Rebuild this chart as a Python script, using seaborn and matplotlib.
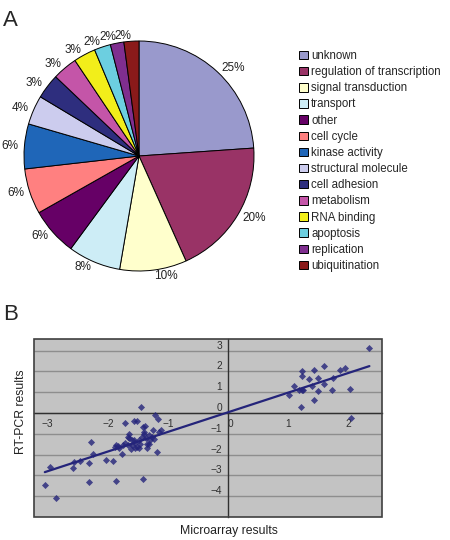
import numpy as np
import pandas as pd
import seaborn as sns
import matplotlib.pyplot as plt
from matplotlib.patches import Rectangle

# A: GO categories (slice shares, labels as printed)
categories = ["unknown", "regulation of transcription", "signal transduction",
              "transport", "other", "cell cycle", "kinase activity",
              "structural molecule", "cell adhesion", "metabolism",
              "RNA binding", "apoptosis", "replication", "ubiquitination"]
shares = [23.9, 19.4, 9.4, 7.4, 6.7, 6.4, 6.3, 4.1, 3.5, 3.5, 3.1, 2.3, 1.9, 2.1]
pct_labels = ["25%", "20%", "10%", "8%", "6%", "6%", "6%", "4%",
              "3%", "3%", "3%", "2%", "2%", "2%"]
slice_colors = ["#9999cc", "#993366", "#ffffcc", "#cdedf6", "#660066", "#ff8080",
                "#1f66b8", "#ccccee", "#2e2e7e", "#c455a8", "#f2ee1a", "#6ccfe0",
                "#7f2e8f", "#8a1a1a"]

# B: microarray vs RT-PCR (log ratios)
microarray = [-3.05, -2.97, -2.87, -2.58, -2.57, -2.46, -2.32, -2.31, -2.28, -2.25,
              -2.03, -1.91, -1.86, -1.88, -1.86, -1.81, -1.77, -1.74, -1.72, -1.67,
              -1.67, -1.65, -1.62, -1.59, -1.57, -1.51, -1.57, -1.54, -1.51, -1.48,
              -1.47, -1.44, -1.42, -1.42, -1.38, -1.40, -1.36, -1.34, -1.34, -1.32,
              -1.29, -1.26, -1.24, -1.23, -1.21, -1.18, -1.16, -1.14, -1.11, -1.65,
              -1.71, -1.83, -1.43, -1.39, -1.31, -1.48, -1.55, -1.59,
              2.36, 1.02, 1.10, 1.18, 1.23, 1.26, 1.24, 1.24, 1.22, 1.35, 1.41, 1.43,
              1.44, 1.50, 1.51, 1.60, 1.61, 1.73, 1.76, 1.87, 1.96, 2.04, 2.06]
rtpcr = [-3.44, -2.58, -4.10, -2.65, -2.35, -2.32, -2.39, -3.34, -1.37, -1.97,
         -2.27, -2.32, -3.26, -1.65, -1.55, -1.68, -1.95, -1.56, -0.47, -1.53,
         -1.13, -1.21, -1.73, -1.52, -0.39, -0.40, -1.32, -1.44, -1.65, -1.29,
         -1.48, 0.31, -3.16, -0.65, -0.63, -0.92, -1.19, -1.48, -1.68, -1.08,
         -1.32, -1.13, -0.81, -1.24, -0.08, -1.87, -0.27, -0.89, -0.84, -1.00,
         -1.45, -1.60, -1.13, -1.03, -1.48, -1.68, -1.68, -1.32,
         3.14, 0.87, 1.28, 1.09, 1.09, 1.09, 2.04, 1.80, 0.29, 1.64, 1.32, 2.09,
         0.64, 1.05, 1.67, 1.38, 2.25, 1.12, 1.70, 2.08, 2.16, 1.16, -0.24]
x_ticks = [-3, -2, -1, 0, 1, 2]
y_ticks = [-4, -3, -2, -1, 0, 1, 2, 3]

sns.set_style("white")
plt.rcParams['font.family'] = ['Liberation Sans', 'DejaVu Sans']

W, H = 450, 540
fig = plt.figure(figsize=(4.5, 5.4), dpi=100)

# ---- panel A: pie ----
r = 115
cx, cy = 139, 156
side = 2.5 * r
ax_pie = fig.add_axes([(cx - side / 2) / W, 1 - (cy + side / 2) / H, side / W, side / H])
wedges, texts = ax_pie.pie(shares, labels=pct_labels, colors=slice_colors,
                           startangle=90, counterclock=False, labeldistance=1.05,
                           wedgeprops=dict(edgecolor="black", linewidth=0.7),
                           textprops=dict(fontsize=8.5, color="#222222"))
ax_pie.set_xlim(-1.25, 1.25)
ax_pie.set_ylim(-1.25, 1.25)

fig.legend(wedges, categories, loc="upper left", bbox_to_anchor=(299 / W, 1 - 50 / H),
           frameon=False, fontsize=8.3, handlelength=0.75, handleheight=0.75,
           handletextpad=0.3, labelspacing=0.36, borderpad=0, borderaxespad=0)

fig.text(3 / W, 1 - 26 / H, "A", fontsize=16, va="baseline")
fig.text(3 / W, 1 - 320 / H, "B", fontsize=16, va="baseline")

# ---- panel B: scatter with trendline ----
df = pd.DataFrame({"Microarray": microarray, "RTPCR": rtpcr})
navy = "#24247a"
ax = fig.add_axes([34 / W, 1 - 517 / H, 348 / W, 178 / H])
ax.set_facecolor("#c3c3c3")
ax.yaxis.grid(True, color="#8e8e8e", lw=1)
ax.set_axisbelow(True)
sns.regplot(data=df, x="Microarray", y="RTPCR", ax=ax, ci=None, marker="D",
            scatter_kws=dict(s=13, color=navy, linewidths=0, zorder=3),
            line_kws=dict(color=navy, lw=1.6, zorder=4))
ax.set_xlim(-3.23, 2.57)
ax.set_ylim(-5, 3.56)
ax.set_xticks(x_ticks)
ax.set_yticks(y_ticks)
ax.set_xlabel("")
ax.set_ylabel("")
for s in ["top", "right"]:
    ax.spines[s].set_visible(False)
ax.spines["left"].set_position(("data", 0))
ax.spines["bottom"].set_position(("data", 0))
for s in ["left", "bottom"]:
    ax.spines[s].set_color("#303030")
    ax.spines[s].set_linewidth(1)
ax.tick_params(axis="both", labelsize=7.3, colors="#303030", length=2.5, width=0.8, pad=1.5)
for lbl in ax.get_yticklabels():
    lbl.set_va("bottom")
for lbl in ax.get_xticklabels():
    if lbl.get_text() in ("0", "\N{MINUS SIGN}0"):
        lbl.set_ha("left")
ax.add_patch(Rectangle((0, 0), 1, 1, transform=ax.transAxes, fill=False,
                       edgecolor="#404040", lw=1.2, clip_on=False, zorder=5))

fig.text(21 / W, 1 - 412 / H, "RT-PCR results", rotation=90, ha="center", va="center",
         fontsize=8.8, color="#222222")
fig.text(229 / W, 1 - 531 / H, "Microarray results", ha="center", va="center",
         fontsize=8.8, color="#222222")

fig.savefig("out.png", dpi=100)
